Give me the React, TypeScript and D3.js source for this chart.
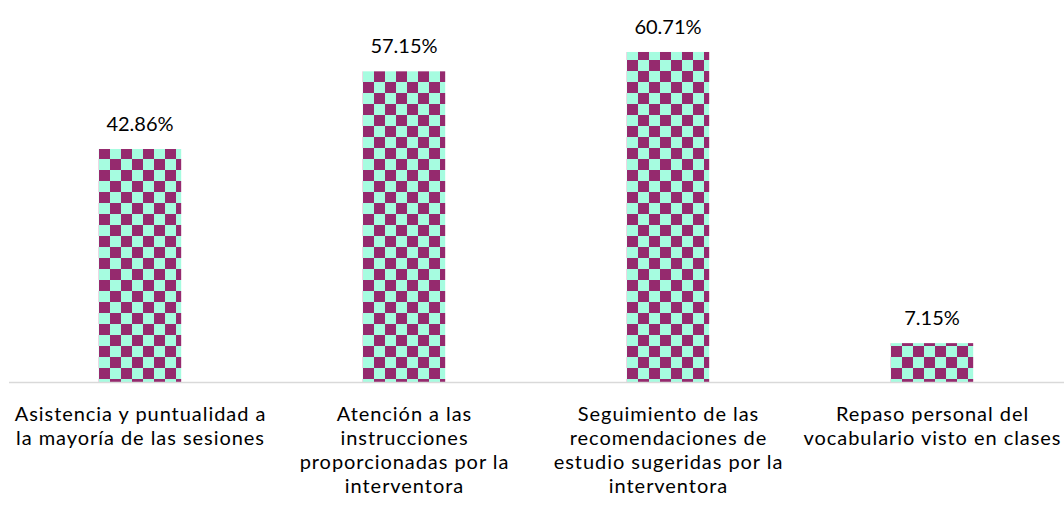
import React from "react";
import * as d3 from "d3";

const categories: string[][] = [
  ["Asistencia y puntualidad a", "la mayoría de las sesiones"],
  ["Atención a las", "instrucciones", "proporcionadas por la", "interventora"],
  ["Seguimiento de las", "recomendaciones de", "estudio sugeridas por la", "interventora"],
  ["Repaso personal del", "vocabulario visto en clases"],
];
const values: number[] = [42.86, 57.15, 60.71, 7.15];
const valueLabels: string[] = ["42.86%", "57.15%", "60.71%", "7.15%"];

const W = 1064;
const H = 512;
const PURPLE = "#952A6E";
const MINT = "#A6FCE0";
const FONT = "Lato, 'Liberation Sans', Arial, sans-serif";

export default function App() {
  const x = d3.scaleBand<number>().domain(d3.range(values.length)).range([8, 1064]).paddingInner(0.688).paddingOuter(0.344);
  const y = d3.scaleLinear().domain([0, 100]).range([382, 382 - 543.6]);
  const cell = 11;
  return (
    <svg width={W} height={H} style={{ position: "absolute", left: 0, top: 0, background: "#fff" }}>
      <defs>
        <pattern id="checker" patternUnits="userSpaceOnUse" width={cell * 2} height={cell * 2} x={99} y={148}>
          <rect width={cell * 2} height={cell * 2} fill={MINT} />
          <rect width={cell} height={cell} fill={PURPLE} />
          <rect x={cell} y={cell} width={cell} height={cell} fill={PURPLE} />
        </pattern>
      </defs>
      {values.map((v, i) => (
        <rect key={i} x={x(i)} y={y(v)} width={x.bandwidth()} height={y(0) - y(v)} fill="url(#checker)" />
      ))}
      <line x1={9} x2={1064} y1={382.5} y2={382.5} stroke="#D9D9D9" strokeWidth={1.5} />
      {values.map((v, i) => (
        <text key={i} x={x(i)! + x.bandwidth() / 2} y={y(v) - 18} textAnchor="middle" fontFamily={FONT} fontSize={20} fill="#000">
          {valueLabels[i]}
        </text>
      ))}
      {categories.map((lines, i) => (
        <text key={i} textAnchor="middle" fontFamily={FONT} fontSize={20} letterSpacing={0.95} fill="#000">
          {lines.map((l, j) => (
            <tspan key={j} x={x(i)! + x.bandwidth() / 2 + 0.5} y={421 + j * 24}>{l}</tspan>
          ))}
        </text>
      ))}
    </svg>
  );
}
